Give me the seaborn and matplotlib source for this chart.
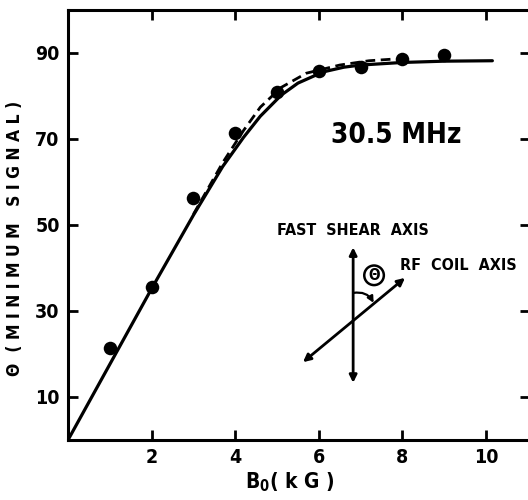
import matplotlib
matplotlib.use("Agg")
import matplotlib.pyplot as plt
import seaborn as sns
import pandas as pd
from matplotlib.patches import FancyArrowPatch

# Measured minimum-signal angle vs. field
b_field = [1, 2, 3, 4, 5, 6, 7, 8, 9]
theta_min = [21.5, 35.5, 56.2, 71.3, 81.0, 85.8, 86.8, 88.5, 89.5]

# Solid theory curve
solid_b = [0, 1, 2, 3, 3.7, 4.2, 4.6, 5.1, 5.5, 6.1, 6.6, 7.0, 8.0, 9.0, 10.15]
solid_theta = [0, 17.6, 35.2, 52.3, 63.6, 70.4, 75.3, 80.2, 83.0, 85.6, 86.7, 87.2, 87.8, 88.1, 88.2]

# Dashed theory curve
dash_b = [3.0, 3.7, 4.2, 4.6, 5.1, 5.7, 6.5, 7.2, 7.8]
dash_theta = [52.5, 64.5, 72.0, 77.4, 82.0, 85.3, 87.2, 88.2, 88.6]

x_ticks = [2, 4, 6, 8, 10]
y_ticks = [10, 30, 50, 70, 90]

sns.set_theme(style="ticks")
plt.rcParams["font.family"] = ["DejaVu Sans"]
plt.rcParams["font.stretch"] = "condensed"
plt.rcParams["font.weight"] = "bold"
for key in ("text.color", "axes.labelcolor", "xtick.color", "ytick.color",
            "axes.edgecolor"):
    plt.rcParams[key] = "black"

fig = plt.figure(figsize=(5.28, 5.0), dpi=100)
ax = fig.add_axes([68 / 528, 60 / 500, 462 / 528, 430 / 500])

solid = pd.DataFrame({"B": solid_b, "theta": solid_theta})
dashed = pd.DataFrame({"B": dash_b, "theta": dash_theta})
points = pd.DataFrame({"B": b_field, "theta": theta_min})

sns.lineplot(data=solid, x="B", y="theta", ax=ax, color="black", lw=2.3,
             sort=False, estimator=None)
sns.lineplot(data=dashed, x="B", y="theta", ax=ax, color="black", lw=2.0,
             sort=False, estimator=None, linestyle=(0, (3.5, 2.0)))
sns.scatterplot(data=points, x="B", y="theta", ax=ax, color="black", s=95,
                edgecolor="black", linewidth=0, zorder=5)

ax.set_xlim(0, 11.05)
ax.set_ylim(0, 100)
ax.set_xticks(x_ticks)
ax.set_yticks(y_ticks)
ax.set_xticklabels([str(v) for v in x_ticks])
ax.set_yticklabels([str(v) for v in y_ticks])
ax.tick_params(axis="both", direction="in", length=7.5, width=2.0,
               top=True, right=True, labelsize=14, pad=6)
for sp in ax.spines.values():
    sp.set_linewidth(2.2)
    sp.set_color("black")

ax.set_xlabel(r"B$_{\mathbf{0}}$( k G )", fontsize=15, fontweight="bold")
ax.xaxis.set_label_coords(0.48, -0.07)
ax.set_ylabel("Θ  ( M I N I M U M   S I G N A L )", fontsize=12.5,
              fontweight="bold")
ax.yaxis.set_label_coords(-0.095, 0.47)

ax.text(7.85, 71, "30.5 MHz", fontsize=20, fontweight="bold",
        ha="center", va="center")
ax.text(6.82, 48.7, "FAST  SHEAR  AXIS", fontsize=11.5, fontweight="bold",
        ha="center", va="center")
ax.text(7.95, 40.5, "RF  COIL  AXIS", fontsize=11.5, fontweight="bold",
        ha="left", va="center")

# Axis sketch: fast shear axis and RF coil axis
arrow_kw = dict(arrowstyle="<|-|>", color="black", lw=2.0,
                mutation_scale=11, shrinkA=0, shrinkB=0)
ax.add_patch(FancyArrowPatch((6.82, 13.3), (6.82, 44.8), **arrow_kw))
ax.add_patch(FancyArrowPatch((5.62, 18.1), (8.06, 37.7), **arrow_kw))
ax.add_patch(FancyArrowPatch((6.82, 34.2), (7.31, 31.9),
                             arrowstyle="-|>", color="black", lw=1.6,
                             mutation_scale=9, shrinkA=0, shrinkB=0,
                             connectionstyle="arc3,rad=-0.35"))
ax.text(7.32, 38.3, "Θ", fontsize=11, fontweight="bold", ha="center",
        va="center",
        bbox=dict(boxstyle="circle,pad=0.15", fc="white", ec="black", lw=1.8))

fig.savefig("out.png", dpi=100)
